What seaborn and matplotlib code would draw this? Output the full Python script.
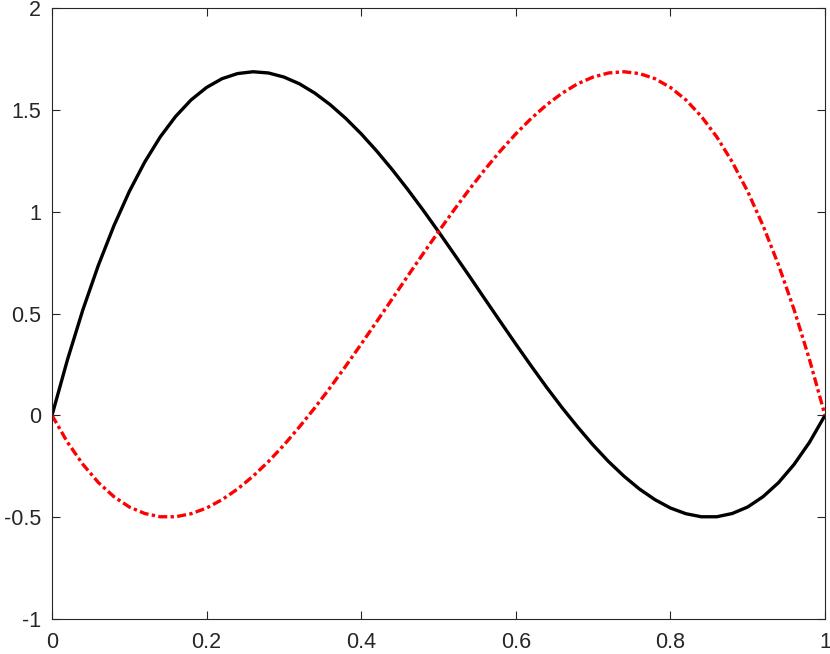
import numpy as np
import pandas as pd
import matplotlib
matplotlib.use('Agg')
import matplotlib.pyplot as plt
import seaborn as sns

# ---- values (x step 0.02) ----
x_vals = [0.00, 0.02, 0.04, 0.06, 0.08, 0.10, 0.12, 0.14, 0.16, 0.18,
          0.20, 0.22, 0.24, 0.26, 0.28, 0.30, 0.32, 0.34, 0.36, 0.38,
          0.40, 0.42, 0.44, 0.46, 0.48, 0.50, 0.52, 0.54, 0.56, 0.58,
          0.60, 0.62, 0.64, 0.66, 0.68, 0.70, 0.72, 0.74, 0.76, 0.78,
          0.80, 0.82, 0.84, 0.86, 0.88, 0.90, 0.92, 0.94, 0.96, 0.98,
          1.00]

black_y = [0.000, 0.273, 0.519, 0.737, 0.930, 1.099, 1.244, 1.367, 1.468, 1.549,
           1.610, 1.653, 1.678, 1.687, 1.681, 1.661, 1.628, 1.582, 1.525, 1.458,
           1.382, 1.298, 1.207, 1.110, 1.008, 0.902, 0.793, 0.683, 0.571, 0.460,
           0.350, 0.242, 0.137, 0.037, -0.057, -0.146, -0.227, -0.299, -0.362, -0.414,
           -0.455, -0.483, -0.498, -0.498, -0.482, -0.450, -0.399, -0.330, -0.241, -0.132,
           0.000]

red_y = [0.000, -0.132, -0.241, -0.330, -0.399, -0.450, -0.482, -0.498, -0.498, -0.483,
         -0.455, -0.414, -0.362, -0.299, -0.227, -0.146, -0.057, 0.037, 0.137, 0.242,
         0.350, 0.460, 0.571, 0.683, 0.793, 0.902, 1.008, 1.110, 1.207, 1.298,
         1.382, 1.458, 1.525, 1.582, 1.628, 1.661, 1.681, 1.687, 1.678, 1.653,
         1.610, 1.549, 1.468, 1.367, 1.244, 1.099, 0.930, 0.737, 0.519, 0.273,
         0.000]

x_ticks = [0, 0.2, 0.4, 0.6, 0.8, 1]
x_labels = ['0', '0.2', '0.4', '0.6', '0.8', '1']
y_ticks = [-1, -0.5, 0, 0.5, 1, 1.5, 2]
y_labels = ['-1', '-0.5', '0', '0.5', '1', '1.5', '2']

df = pd.DataFrame({'x': x_vals, 'black': black_y, 'red': red_y})

sns.set_style('white')
plt.rcParams['font.family'] = ['Liberation Sans', 'DejaVu Sans']

fig = plt.figure(figsize=(8.3, 6.54), dpi=100)
ax = fig.add_axes([52 / 830, 35 / 654, 773 / 830, 611 / 654])

sns.lineplot(data=df, x='x', y='black', color='#000000', linewidth=2.4,
             sort=False, estimator=None, ax=ax)
sns.lineplot(data=df, x='x', y='red', color='#ff0000', linewidth=2.4,
             sort=False, estimator=None, ax=ax)
ax.lines[0].set_solid_joinstyle('round')
ax.lines[1].set_dashes((2.7, 1.0, 1.0, 1.0))
ax.lines[1].set_dash_capstyle('butt')
ax.lines[1].set_dash_joinstyle('round')

ax.set_xlim(0, 1)
ax.set_ylim(-1, 2)
ax.set_xticks(x_ticks)
ax.set_xticklabels(x_labels)
ax.set_yticks(y_ticks)
ax.set_yticklabels(y_labels)
ax.set_xlabel('')
ax.set_ylabel('')

# matlab-like box with inward ticks on every side
for side in ['top', 'bottom', 'left', 'right']:
    ax.spines[side].set_visible(True)
    ax.spines[side].set_color('#262626')
    ax.spines[side].set_linewidth(0.8)
ax.tick_params(axis='both', direction='in', length=5.8, width=0.8,
               color='#262626', labelcolor='#262626', labelsize=15.5,
               top=True, right=True, bottom=True, left=True)
ax.tick_params(axis='x', pad=9.5)
ax.tick_params(axis='y', pad=8)

fig.savefig('out.png', dpi=100, facecolor='white')
